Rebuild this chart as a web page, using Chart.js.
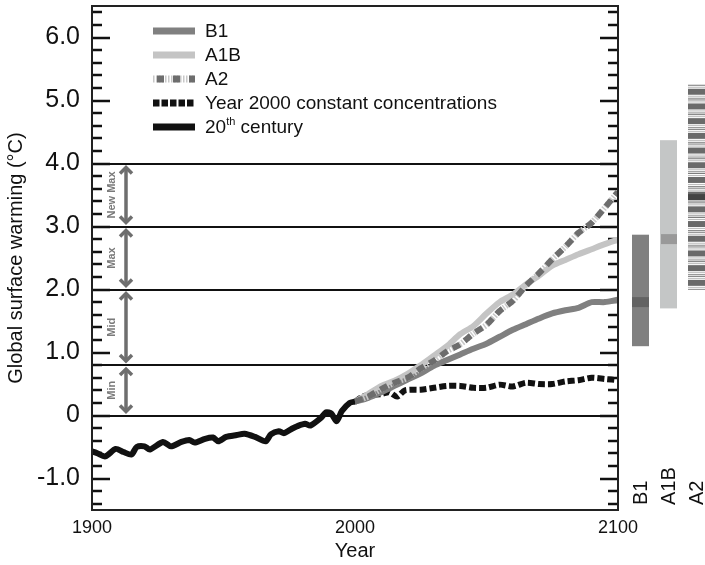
<!DOCTYPE html>
<html><head><meta charset="utf-8">
<script src="https://cdn.jsdelivr.net/npm/chart.js@4"></script>
<style>html,body{margin:0;padding:0;background:#fff}</style>
</head><body>
<canvas id="c" width="705" height="565"></canvas>
<script>
// ---------- data ----------
const HIST_YEARS  = [1900,1902,1905,1909,1912,1915,1917,1920,1922,1927,1930,1934,1937,1939,1943,1946,1948,1951,1955,1958,1962,1966,1968,1971,1973,1976,1978,1981,1983,1987,1989,1991,1993,1995,1998,2000];
const HIST_VALUES = [-0.57,-0.60,-0.65,-0.53,-0.58,-0.62,-0.50,-0.49,-0.54,-0.42,-0.49,-0.42,-0.39,-0.43,-0.37,-0.35,-0.41,-0.34,-0.31,-0.29,-0.34,-0.41,-0.30,-0.25,-0.28,-0.21,-0.17,-0.13,-0.16,-0.04,0.05,0.03,-0.09,0.07,0.20,0.22];

const PROJ_YEARS = [2000,2005,2010,2015,2020,2025,2030,2035,2040,2045,2050,2055,2060,2065,2070,2075,2080,2085,2090,2095,2100];
const B1_VALUES  = [0.22,0.28,0.37,0.47,0.57,0.67,0.79,0.88,0.97,1.06,1.14,1.25,1.36,1.45,1.54,1.62,1.67,1.71,1.80,1.80,1.84];
const A1B_VALUES = [0.22,0.34,0.47,0.55,0.66,0.80,0.95,1.10,1.29,1.42,1.62,1.80,1.92,2.08,2.22,2.38,2.47,2.56,2.64,2.72,2.79];
const A2_VALUES  = [0.22,0.30,0.42,0.52,0.60,0.75,0.87,1.02,1.13,1.30,1.44,1.66,1.82,2.06,2.26,2.48,2.68,2.90,3.06,3.30,3.55];

const COMMIT_YEARS  = [2000,2003,2006,2010,2013,2016,2019,2025,2030,2035,2040,2045,2050,2055,2060,2065,2070,2075,2080,2085,2090,2095,2100];
const COMMIT_VALUES = [0.22,0.30,0.33,0.34,0.37,0.30,0.40,0.41,0.44,0.47,0.47,0.44,0.44,0.49,0.46,0.52,0.50,0.50,0.54,0.56,0.60,0.58,0.56];

const SERIES_NAMES = ['B1','A1B','A2','Year 2000 constant concentrations','20th century'];

const Y_TICKS = [-1,0,1,2,3,4,5,6];
const Y_TICK_LABELS = ['-1.0','0','1.0','2.0','3.0','4.0','5.0','6.0'];
const X_TICKS = [1900,2000,2100];
const X_TICK_LABELS = ['1900','2000','2100'];

const REF_LINES = [0,0.8,2,3,4];
const RANGE_SEGMENTS = [[0,0.8],[0.8,2],[2,3],[3,4]];
const RANGE_LABELS = ['Min','Mid','Max','New Max'];

// likely ranges at 2100 (low, best, high)
const BAR_NAMES = ['B1','A1B','A2'];
const BAR_LOW   = [1.1,1.7,2.0];
const BAR_BEST  = [1.8,2.8,3.45];
const BAR_HIGH  = [2.87,4.37,5.25];

// ---------- helpers ----------
const pts = (xs, ys) => xs.map((x,i)=>({x, y: ys[i]}));
const FONT = '"Liberation Sans", Arial, Helvetica, sans-serif';

const deco = {
  id: 'deco',
  beforeDatasetsDraw(chart) {
    const {ctx, chartArea: a, scales: {y}} = chart;
    ctx.save();
    ctx.strokeStyle = '#111'; ctx.lineWidth = 2;
    REF_LINES.forEach(v => {
      const py = Math.round(y.getPixelForValue(v));
      ctx.beginPath(); ctx.moveTo(a.left, py); ctx.lineTo(a.right, py); ctx.stroke();
    });
    ctx.lineWidth = 2.5;
    for (let k = -7; k <= 32; k++) {
      const v = k / 5;
      const py = Math.round(y.getPixelForValue(v));
      const len = (k % 5 === 0) ? 18 : 10;
      ctx.beginPath();
      ctx.moveTo(a.left, py); ctx.lineTo(a.left + len, py);
      ctx.moveTo(a.right, py); ctx.lineTo(a.right - len, py);
      ctx.stroke();
    }
    const ax = a.left + 34;
    ctx.strokeStyle = '#6e6e6e'; ctx.fillStyle = '#7a7a7a';
    ctx.lineWidth = 3.5; ctx.lineCap = 'butt'; ctx.lineJoin = 'miter';
    RANGE_SEGMENTS.forEach((seg, i) => {
      const y1 = y.getPixelForValue(seg[1]) + 3;
      const y2 = y.getPixelForValue(seg[0]) - 3;
      ctx.beginPath(); ctx.moveTo(ax, y1 + 1); ctx.lineTo(ax, y2 - 1); ctx.stroke();
      ctx.beginPath(); ctx.moveTo(ax - 6, y1 + 7); ctx.lineTo(ax, y1 + 1); ctx.lineTo(ax + 6, y1 + 7); ctx.stroke();
      ctx.beginPath(); ctx.moveTo(ax - 6, y2 - 7); ctx.lineTo(ax, y2 - 1); ctx.lineTo(ax + 6, y2 - 7); ctx.stroke();
      ctx.save();
      ctx.translate(ax - 14, (y1 + y2) / 2);
      ctx.rotate(-Math.PI / 2);
      ctx.font = 'bold 11px ' + FONT;
      ctx.textAlign = 'center'; ctx.textBaseline = 'middle';
      ctx.fillText(RANGE_LABELS[i], 0, 0);
      ctx.restore();
    });
    ctx.restore();
  },
  afterDraw(chart) {
    const {ctx, chartArea: a, scales: {y}} = chart;
    ctx.save();
    ctx.strokeStyle = '#222'; ctx.lineWidth = 2;
    ctx.strokeRect(a.left, a.top, a.right - a.left, a.bottom - a.top);

    const barX = [a.right + 14, a.right + 42, a.right + 70];
    const bw = 17;
    BAR_NAMES.forEach((name, i) => {
      const top = y.getPixelForValue(BAR_HIGH[i]);
      const bot = y.getPixelForValue(BAR_LOW[i]);
      const best = y.getPixelForValue(BAR_BEST[i]);
      const x0 = barX[i];
      if (i === 0) {
        ctx.fillStyle = '#808080'; ctx.fillRect(x0, top, bw, bot - top);
        ctx.fillStyle = '#636363'; ctx.fillRect(x0, best - 5, bw, 10);
      } else if (i === 1) {
        ctx.fillStyle = '#c4c6c6'; ctx.fillRect(x0, top, bw, bot - top);
        ctx.fillStyle = '#999'; ctx.fillRect(x0 + 1, best - 5, bw - 1, 10);
      } else {
        const period = 14.7;
        for (let p = top; p < bot - 1; p += period) {
          const rows = [[0,1,'#777'],[2,1,'#b8b8b8'],[4,6,'#6a6a6a'],[11,1,'#bbb'],[13,1,'#888']];
          rows.forEach(r => {
            const yy = p + r[0];
            if (yy + r[1] <= bot + 0.5) { ctx.fillStyle = r[2]; ctx.fillRect(x0, yy, bw, r[1]); }
          });
        }
        ctx.fillStyle = '#444'; ctx.fillRect(x0, best - 4, bw, 6);
      }
      ctx.save();
      ctx.translate(x0 + bw / 2 + 1, a.bottom - 5);
      ctx.rotate(-Math.PI / 2);
      ctx.font = '20px ' + FONT; ctx.fillStyle = '#111';
      ctx.textAlign = 'left'; ctx.textBaseline = 'middle';
      ctx.fillText(name, 0, 0);
      ctx.restore();
    });

    const lx0 = a.left + 61, lx1 = a.left + 103, tx = a.left + 113;
    const rowY = [31, 55, 79, 103, 127];
    ctx.lineCap = 'butt';
    const seg = (color, dash, w, yy, off) => {
      ctx.beginPath(); ctx.setLineDash(dash || []); ctx.lineDashOffset = off || 0;
      ctx.strokeStyle = color; ctx.lineWidth = w;
      ctx.moveTo(lx0, yy); ctx.lineTo(lx1, yy); ctx.stroke();
    };
    seg('#808080', null, 7, rowY[0]);
    seg('#c4c4c4', null, 7, rowY[1]);
    seg('#c8c8c8', [1.5, 1.5], 7, rowY[2]);
    seg('#6d6d6d', [7, 9], 7, rowY[2], -4);
    seg('#111', [6.5, 2], 7, rowY[3]);
    seg('#111', null, 7, rowY[4]);
    ctx.setLineDash([]);
    ctx.fillStyle = '#111'; ctx.textBaseline = 'middle'; ctx.textAlign = 'left';
    ctx.font = '19px ' + FONT;
    for (let i = 0; i < 4; i++) ctx.fillText(SERIES_NAMES[i], tx, rowY[i] + 1);
    const name = SERIES_NAMES[4];
    const base = name.slice(0, 2), sup = name.slice(2, 4), rest = name.slice(4);
    let cx = tx;
    ctx.fillText(base, cx, rowY[4] + 1); cx += ctx.measureText(base).width;
    ctx.font = '11px ' + FONT; ctx.fillText(sup, cx, rowY[4] - 5); cx += ctx.measureText(sup).width;
    ctx.font = '19px ' + FONT; ctx.fillText(rest, cx, rowY[4] + 1);
    ctx.restore();
  }
};

new Chart(document.getElementById('c'), {
  type: 'line',
  data: {
    datasets: [
      { label: SERIES_NAMES[4], data: pts(HIST_YEARS, HIST_VALUES), borderColor: '#111', borderWidth: 6, order: 1 },
      { label: SERIES_NAMES[2], data: pts(PROJ_YEARS, A2_VALUES), borderColor: '#6d6d6d', borderWidth: 6, borderDash: [8, 6], order: 2 },
      { label: SERIES_NAMES[2] + ' stripes', data: pts(PROJ_YEARS, A2_VALUES), borderColor: '#c8c8c8', borderWidth: 6, borderDash: [1.5, 1.5], order: 3 },
      { label: SERIES_NAMES[0], data: pts(PROJ_YEARS, B1_VALUES), borderColor: '#808080', borderWidth: 6, order: 4 },
      { label: SERIES_NAMES[1], data: pts(PROJ_YEARS, A1B_VALUES), borderColor: '#c4c4c4', borderWidth: 6, order: 5 },
      { label: SERIES_NAMES[3], data: pts(COMMIT_YEARS, COMMIT_VALUES), borderColor: '#111', borderWidth: 6, borderDash: [7, 3], order: 6 }
    ]
  },
  options: {
    responsive: false,
    animation: false,
    events: [],
    layout: { padding: { left: 0, right: 87, top: 6, bottom: 0 } },
    elements: { point: { radius: 0 }, line: { tension: 0.25, fill: false, borderCapStyle: 'butt' } },
    plugins: { legend: { display: false }, tooltip: { enabled: false } },
    scales: {
      x: {
        type: 'linear', min: 1900, max: 2100,
        afterBuildTicks: ax => { ax.ticks = X_TICKS.map(v => ({ value: v })); },
        afterFit: ax => { ax.height = 55; ax.paddingLeft = 0; ax.paddingRight = 0; },
        grid: { display: false, drawTicks: false },
        border: { display: false },
        ticks: { autoSkip: false, maxRotation: 0, padding: 7, color: '#111', font: { family: FONT, size: 18 },
                 callback: v => X_TICK_LABELS[X_TICKS.indexOf(v)] },
        title: { display: true, text: 'Year', color: '#111', font: { family: FONT, size: 20 }, padding: { top: 0, bottom: 2 } }
      },
      y: {
        min: -1.5, max: 6.5,
        afterBuildTicks: ax => { ax.ticks = Y_TICKS.map(v => ({ value: v })); },
        afterFit: ax => { ax.width = 92; ax.paddingTop = 0; ax.paddingBottom = 0; },
        grid: { display: false, drawTicks: false },
        border: { display: false },
        ticks: { autoSkip: false, padding: 12, color: '#111', font: { family: FONT, size: 25 },
                 callback: v => Y_TICK_LABELS[Y_TICKS.indexOf(v)] },
        title: { display: true, text: 'Global surface warming (°C)', color: '#111', font: { family: FONT, size: 20 }, padding: { top: 4, bottom: 0 } }
      }
    }
  },
  plugins: [deco]
});
</script>
</body></html>
